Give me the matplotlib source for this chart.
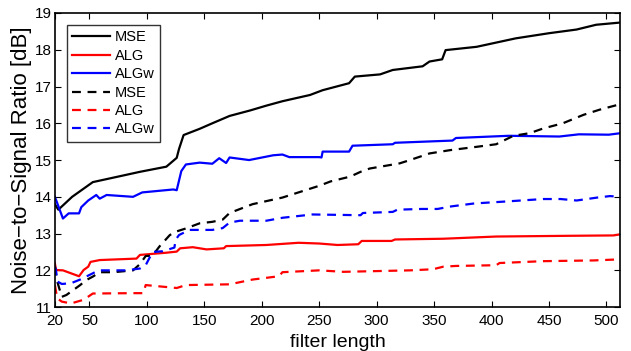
import matplotlib.pyplot as plt

plt.rcParams['font.family'] = ['Liberation Sans', 'DejaVu Sans']

# (filter length, NSR in dB)
mse_x = [20, 23, 35, 53, 75, 94, 117, 126, 128, 132, 146, 157, 172, 190, 204, 218, 242,
         253, 276, 281, 303, 314, 340, 346, 357, 360, 387, 421, 450, 474, 491, 512]
mse_y = [13.8, 13.65, 14.0, 14.4, 14.55, 14.68, 14.82, 15.06, 15.3, 15.68, 15.85, 16.0, 16.2,
         16.35, 16.48, 16.6, 16.77, 16.9, 17.09, 17.27, 17.33, 17.45, 17.55, 17.68, 17.74,
         17.99, 18.08, 18.31, 18.45, 18.55, 18.68, 18.74]

alg_x = [20, 21, 27, 41, 45, 49, 51, 59, 91, 94, 117, 126, 129, 140, 152, 167, 169, 204, 232,
         250, 266, 284, 287, 313, 316, 358, 404, 468, 506, 512]
alg_y = [12.19, 12.01, 12.0, 11.84, 12.01, 12.1, 12.23, 12.28, 12.32, 12.42, 12.48, 12.51,
         12.6, 12.63, 12.57, 12.6, 12.66, 12.69, 12.75, 12.73, 12.69, 12.71, 12.8, 12.8, 12.84,
         12.86, 12.92, 12.94, 12.95, 12.98]

algw_x = [20, 27, 32, 41, 43, 49, 56, 59, 65, 88, 96, 123, 126, 130, 134, 146, 157, 163, 169,
          172, 189, 210, 218, 224, 250, 252, 253, 276, 279, 314, 316, 366, 369, 415, 459, 476,
          502, 512]
algw_y = [14.0, 13.41, 13.55, 13.55, 13.72, 13.9, 14.05, 13.95, 14.05, 14.0, 14.12, 14.2,
          14.18, 14.7, 14.88, 14.93, 14.9, 15.05, 14.92, 15.07, 15.0, 15.13, 15.15, 15.08,
          15.08, 15.07, 15.23, 15.23, 15.39, 15.43, 15.47, 15.53, 15.6, 15.66, 15.64, 15.7,
          15.69, 15.73]

mse2_x = [20, 22, 26, 30, 34, 42, 47, 53, 59, 71, 88, 94, 99, 105, 111, 120, 125, 134, 146,
          157, 166, 172, 192, 218, 232, 250, 260, 277, 286, 294, 320, 329, 346, 364, 387, 404,
          419, 433, 445, 462, 480, 494, 512]
mse2_y = [12.1, 11.7, 11.28, 11.33, 11.42, 11.6, 11.73, 11.83, 11.95, 11.95, 12.0, 12.17,
          12.39, 12.4, 12.65, 12.96, 13.05, 13.14, 13.28, 13.32, 13.38, 13.56, 13.8, 13.98,
          14.12, 14.3, 14.42, 14.55, 14.68, 14.77, 14.91, 15.0, 15.18, 15.27, 15.36, 15.43,
          15.66, 15.73, 15.86, 16.0, 16.23, 16.37, 16.52]

alg2_x = [20, 22, 26, 34, 45, 53, 88, 97, 99, 126, 134, 172, 192, 215, 218, 250, 271, 329,
          349, 358, 369, 404, 407, 445, 489, 512]
alg2_y = [11.6, 11.24, 11.15, 11.1, 11.2, 11.37, 11.38, 11.38, 11.6, 11.52, 11.6, 11.62,
          11.75, 11.84, 11.95, 12.0, 11.96, 12.0, 12.03, 12.1, 12.12, 12.14, 12.2, 12.25,
          12.27, 12.3]

algw2_x = [20, 21, 22, 26, 34, 42, 53, 58, 82, 94, 99, 105, 114, 124, 125, 128, 137, 157,
           166, 172, 181, 204, 218, 244, 286, 288, 314, 318, 339, 353, 365, 385, 411, 445, 460,
           474, 492, 503, 512]
algw2_y = [12.1, 12.0, 11.7, 11.63, 11.65, 11.75, 11.92, 12.0, 12.0, 12.05, 12.14, 12.5,
           12.52, 12.62, 12.83, 12.96, 13.1, 13.1, 13.15, 13.3, 13.35, 13.35, 13.43, 13.52,
           13.5, 13.56, 13.59, 13.65, 13.67, 13.67, 13.74, 13.82, 13.87, 13.94, 13.94, 13.9,
           13.98, 14.02, 14.0]

labels = ['MSE', 'ALG', 'ALGw', 'MSE', 'ALG', 'ALGw']
xticks = [20, 50, 100, 150, 200, 250, 300, 350, 400, 450, 500]

fig = plt.figure(figsize=(6.31, 3.51), dpi=100)
ax = fig.add_axes([0.087, 0.125, 0.896, 0.838])

ax.plot(mse_x, mse_y, color='black', lw=1.6, label=labels[0])
ax.plot(alg_x, alg_y, color='red', lw=1.6, label=labels[1])
ax.plot(algw_x, algw_y, color='blue', lw=1.6, label=labels[2])
ax.plot(mse2_x, mse2_y, color='black', lw=1.6, ls=(0, (4, 3)), label=labels[3])
ax.plot(alg2_x, alg2_y, color='red', lw=1.6, ls=(0, (4, 3)), label=labels[4])
ax.plot(algw2_x, algw2_y, color='blue', lw=1.6, ls=(0, (4, 3)), label=labels[5])

ax.set_xlim(20, 512)
ax.set_ylim(11, 19)
ax.set_xticks(xticks)
ax.set_yticks(range(11, 20))
ax.tick_params(direction='in', top=True, right=True, labelsize=11, length=4)
ax.tick_params(axis='x', pad=5)
ax.tick_params(axis='y', pad=2)
for s in ax.spines.values():
    s.set_linewidth(1.2)

ax.set_xlabel('filter length', fontsize=14, labelpad=4)
ax.set_ylabel('Noise\u2212to\u2212Signal Ratio [dB]', fontsize=16, labelpad=2)

leg = ax.legend(loc='upper left', fontsize=10.5, frameon=True, fancybox=False,
                edgecolor='black', handlelength=2.6, labelspacing=0.3,
                borderaxespad=0.8, handletextpad=0.3)
leg.get_frame().set_linewidth(1.0)

fig.savefig('out.png', dpi=100)
